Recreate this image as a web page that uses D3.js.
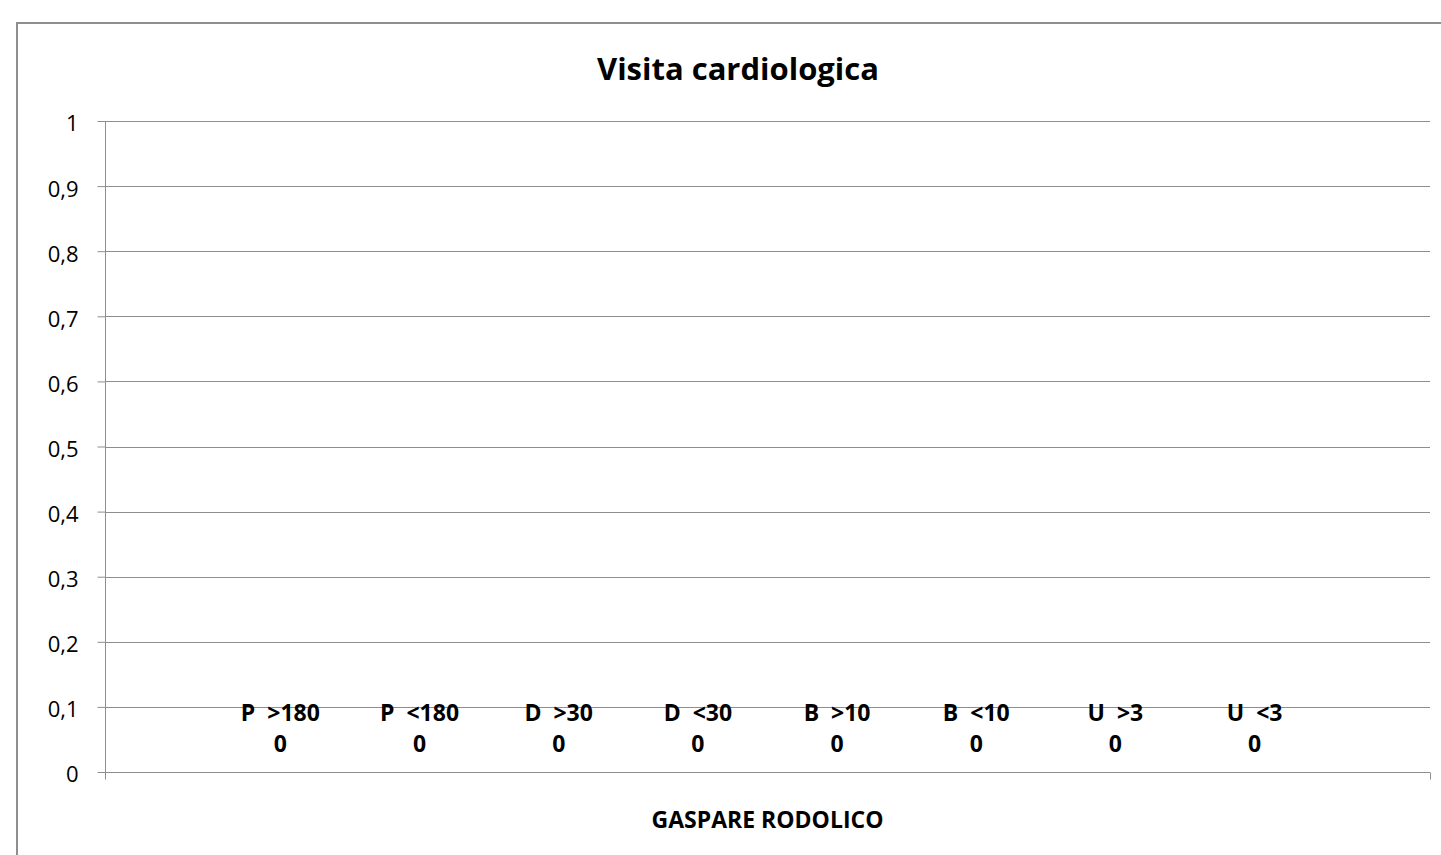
<!DOCTYPE html>
<html>
<head>
<meta charset="utf-8">
<script src="https://cdn.jsdelivr.net/npm/d3@7"></script>
<style>
  body { margin: 0; background: #fff; }
  svg { display: block; font-family: "Open Sans", sans-serif; }
</style>
</head>
<body>
<div id="container"></div>
<script>
// chart data
let categories = ["GASPARE RODOLICO"];
let seriesNames = ["P  >180", "P  <180", "D  >30", "D  <30", "B  >10", "B  <10", "U  >3", "U  <3"];
let seriesValues = [0, 0, 0, 0, 0, 0, 0, 0];
let yTicks = [0, 0.1, 0.2, 0.3, 0.4, 0.5, 0.6, 0.7, 0.8, 0.9, 1];

let w = 1441;
let h = 855;
let plotLeft = 105, plotRight = 1430, plotTop = 121, plotBottom = 772;
let grid = "#8e8e8e";

let svg = d3.select("#container")
  .append("svg")
  .attr("width", w)
  .attr("height", h);

// outer chart frame (runs off the right and bottom of the picture)
svg.append("rect")
  .attr("x", 17).attr("y", 23)
  .attr("width", w + 20).attr("height", h + 20)
  .attr("fill", "none")
  .attr("stroke", grid)
  .attr("stroke-width", 2);

svg.append("text")
  .attr("x", 738).attr("y", 80)
  .attr("text-anchor", "middle")
  .style("font-size", "31px")
  .style("font-weight", "bold")
  .text("Visita cardiologica");

let y = d3.scaleLinear().domain([0, 1]).range([plotBottom, plotTop]);

let x0 = d3.scaleBand()
  .domain(categories)
  .range([plotLeft, plotRight])
  .paddingInner(0)
  .paddingOuter(0.095);

let x1 = d3.scaleBand()
  .domain(seriesNames)
  .range([0, x0.bandwidth()])
  .padding(0);

// gridlines
svg.append("g")
  .selectAll("line")
  .data(yTicks.filter(d => d > 0))
  .enter()
  .append("line")
  .attr("x1", plotLeft).attr("x2", plotRight)
  .attr("y1", d => Math.round(y(d)) + 0.5)
  .attr("y2", d => Math.round(y(d)) + 0.5)
  .attr("stroke", grid);

// y axis
let yAxis = svg.append("g")
  .attr("transform", "translate(" + (plotLeft + 0.5) + ",0)")
  .call(d3.axisLeft(y).tickValues(yTicks).tickSize(8).tickPadding(19)
    .tickFormat(d => String(d).replace(".", ",")));
yAxis.select(".domain").remove();
yAxis.selectAll(".tick line").attr("stroke", grid);
yAxis.selectAll(".tick text")
  .style("font-size", "22px")
  .style("font-family", "'Open Sans', sans-serif")
  .attr("dy", "0.45em")
  .attr("fill", "#000");
yAxis.append("line")
  .attr("x1", 0).attr("x2", 0)
  .attr("y1", plotTop).attr("y2", plotBottom + 7)
  .attr("stroke", grid);

// x axis
let xAxis = svg.append("g")
  .attr("transform", "translate(0," + (plotBottom + 0.5) + ")");
xAxis.append("line")
  .attr("x1", plotLeft).attr("x2", plotRight)
  .attr("stroke", grid);
xAxis.selectAll(".edge")
  .data([plotLeft, plotRight])
  .enter()
  .append("line")
  .attr("x1", d => d + 0.5).attr("x2", d => d + 0.5)
  .attr("y1", 0).attr("y2", 7)
  .attr("stroke", grid);
xAxis.selectAll(".cat")
  .data(categories)
  .enter()
  .append("text")
  .attr("x", d => x0(d) + x0.bandwidth() / 2)
  .attr("y", 55)
  .attr("text-anchor", "middle")
  .style("font-size", "23px")
  .style("font-weight", "bold")
  .text(d => d);

// bars (all zero) and their labels
let groups = svg.selectAll(".grp")
  .data(categories)
  .enter()
  .append("g")
  .attr("transform", d => "translate(" + x0(d) + ",0)");

let rows = seriesNames.map((s, i) => ({ name: s, value: seriesValues[i] }));

groups.selectAll("rect")
  .data(rows)
  .enter()
  .append("rect")
  .attr("x", d => x1(d.name))
  .attr("width", x1.bandwidth())
  .attr("y", d => y(d.value))
  .attr("height", d => y(0) - y(d.value))
  .attr("fill", "#4f81bd");

let labels = groups.selectAll(".lbl")
  .data(rows)
  .enter()
  .append("text")
  .attr("text-anchor", "middle")
  .style("font-size", "23px")
  .style("font-weight", "bold")
  .style("white-space", "pre");

labels.append("tspan")
  .attr("x", d => x1(d.name) + x1.bandwidth() / 2)
  .attr("y", d => y(d.value) - 51)
  .text(d => d.name);
labels.append("tspan")
  .attr("x", d => x1(d.name) + x1.bandwidth() / 2)
  .attr("y", d => y(d.value) - 20)
  .text(d => d.value);
</script>
</body>
</html>
